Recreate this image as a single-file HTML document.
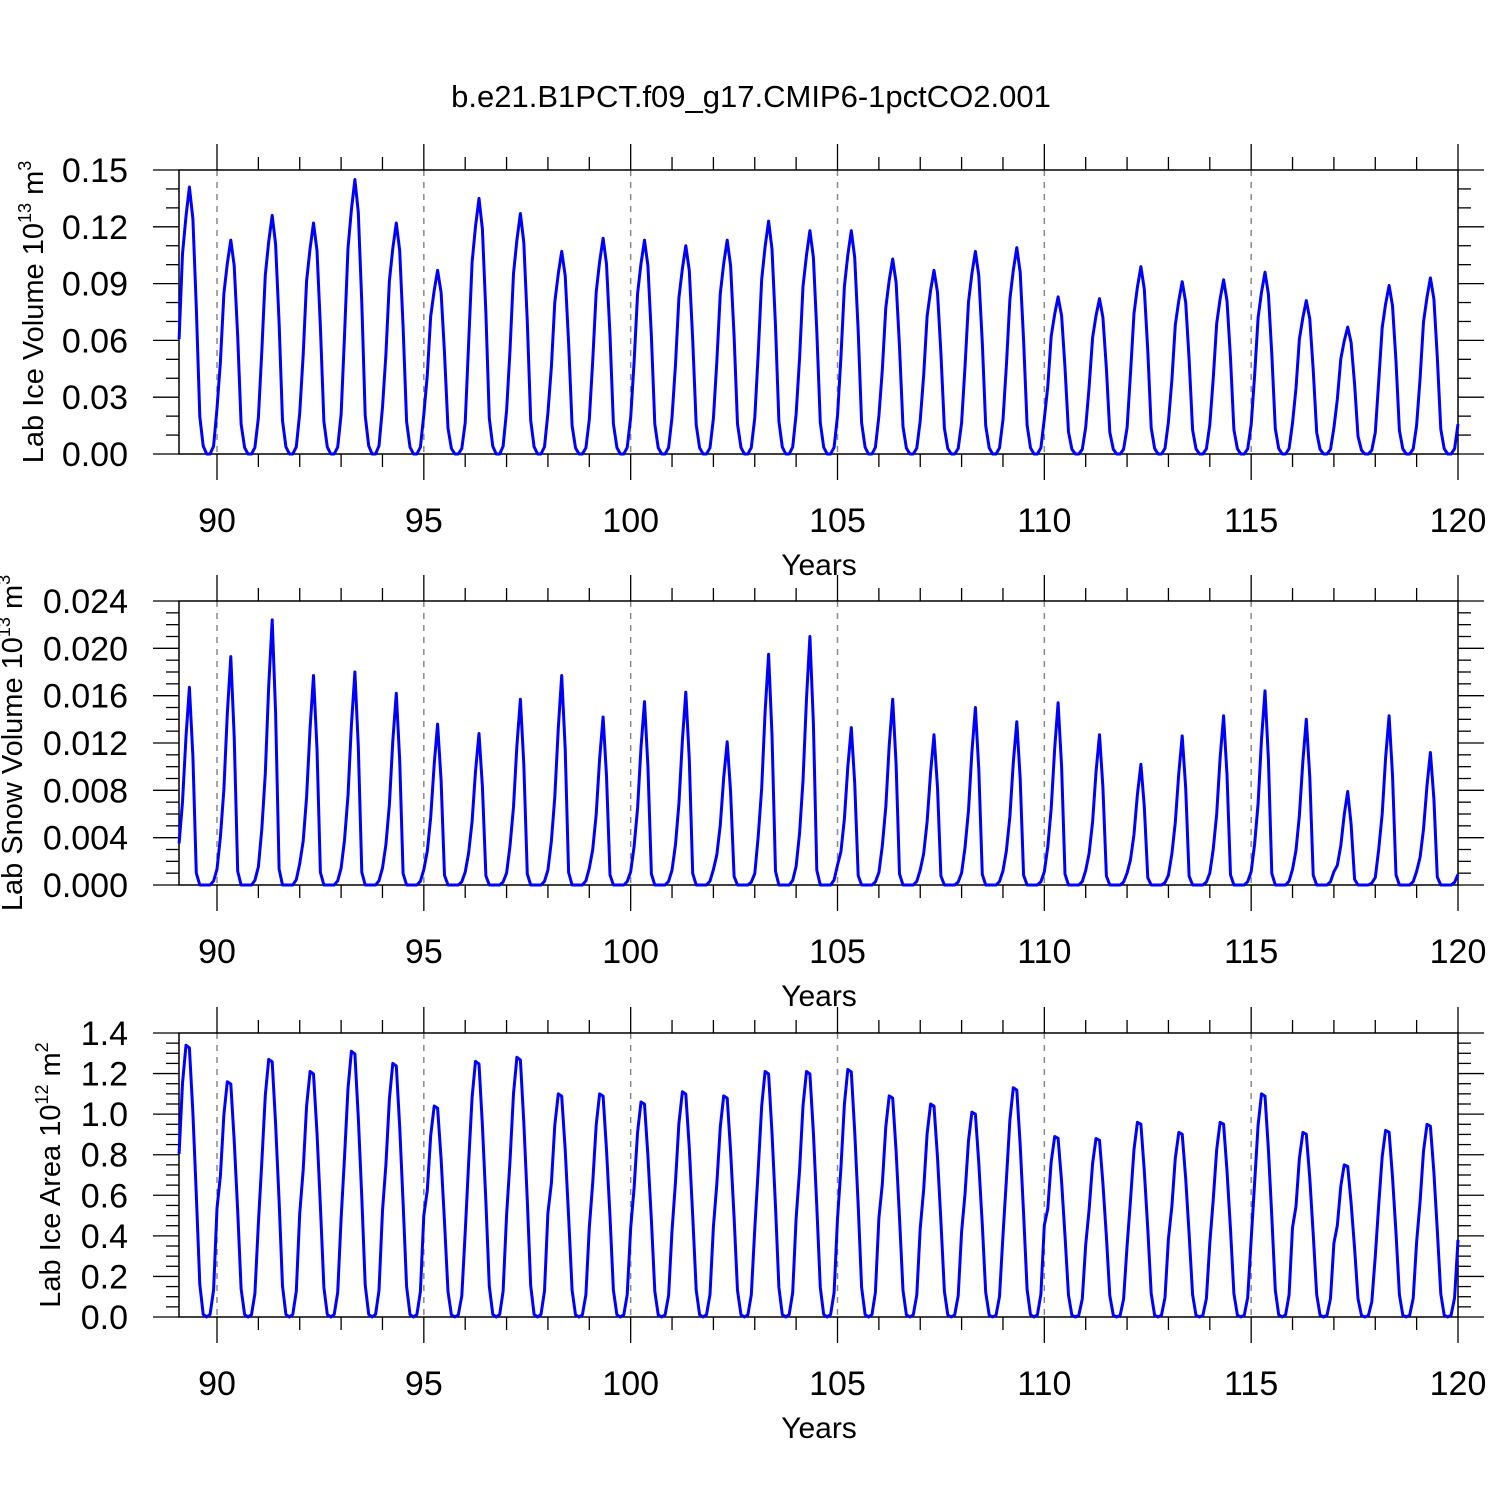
<!DOCTYPE html>
<html><head><meta charset="utf-8"><style>
body{margin:0;background:#fff}
svg{display:block;font-family:"Liberation Sans",sans-serif}
</style></head><body>
<svg id="chart" width="1500" height="1500" viewBox="0 0 1500 1500" xmlns="http://www.w3.org/2000/svg">
<rect width="1500" height="1500" fill="#fff"/>
<text x="751" y="107" font-size="31" text-anchor="middle">b.e21.B1PCT.f09_g17.CMIP6-1pctCO2.001</text>
</svg>
<script>
const years = [89,90,91,92,93,94,95,96,97,98,99,100,101,102,103,104,105,106,107,108,109,110,111,112,113,114,115,116,117,118,119];
const icePeaks = [0.141,0.113,0.126,0.122,0.145,0.122,0.097,0.135,0.127,0.107,0.114,0.113,0.110,0.113,0.123,0.118,0.118,0.103,0.097,0.107,0.109,0.083,0.082,0.099,0.091,0.092,0.096,0.081,0.067,0.089,0.093];
const iceProfile = [0.43,0.75,0.89,1.0,0.88,0.55,0.14,0.03,0.0,0.0,0.03,0.17];
const snowPeaks = [0.0167,0.0193,0.0224,0.0177,0.018,0.0162,0.0136,0.0128,0.0157,0.0177,0.0142,0.0155,0.0163,0.0121,0.0195,0.0210,0.0133,0.0157,0.0127,0.015,0.0138,0.0154,0.0127,0.0102,0.0126,0.0143,0.0164,0.014,0.0079,0.0143,0.0112];
const snowProfile = [0.21,0.42,0.75,1.0,0.65,0.06,0.0,0.0,0.0,0.0,0.02,0.08];
const areaPeaks = [1.34,1.16,1.27,1.21,1.31,1.25,1.04,1.26,1.28,1.10,1.10,1.06,1.11,1.09,1.21,1.21,1.22,1.09,1.05,1.01,1.13,0.89,0.88,0.96,0.91,0.96,1.10,0.91,0.75,0.92,0.95];
const areaProfile = [0.6,0.86,1.0,0.99,0.75,0.45,0.12,0.01,0.0,0.01,0.1,0.4];
const xTicks = [90,95,100,105,110,115,120];
const iceTicks = ["0.00","0.03","0.06","0.09","0.12","0.15"];
const snowTicks = ["0.000","0.004","0.008","0.012","0.016","0.020","0.024"];
const areaTicks = ["0.0","0.2","0.4","0.6","0.8","1.0","1.2","1.4"];

const NS="http://www.w3.org/2000/svg";
const svg=document.getElementById('chart');
const L=179,R=1458;
function xs(t){return 217+(t-90)*(R-217)/30;}
function mk(tag,attrs,parent){const e=document.createElementNS(NS,tag);for(const k in attrs)e.setAttribute(k,attrs[k]);(parent||svg).appendChild(e);return e;}

const panels=[
 {name:'ice-volume',top:170,bot:454,max:0.15,ticks:iceTicks,minor:0.01,peaks:icePeaks,prof:iceProfile,
  label:'Lab Ice Volume 10',sup:'13',unit:' m',sup2:'3',lx:43},
 {name:'snow-volume',top:601,bot:885,max:0.024,ticks:snowTicks,minor:0.001,peaks:snowPeaks,prof:snowProfile,
  label:'Lab Snow Volume 10',sup:'13',unit:' m',sup2:'3',lx:22},
 {name:'ice-area',top:1033,bot:1317,max:1.4,ticks:areaTicks,minor:0.05,peaks:areaPeaks,prof:areaProfile,
  label:'Lab Ice Area 10',sup:'12',unit:' m',sup2:'2',lx:60}
];
panels.forEach(p=>{
  const g=mk('g',{});
  
  
  const ys=v=>p.bot-(v/p.max)*(p.bot-p.top);
  xTicks.slice(0,-1).forEach(t=>{
    const l=mk('line',{x1:xs(t),x2:xs(t),y1:p.top,y2:p.bot,stroke:'#888','stroke-width':1.5,'stroke-dasharray':'6,6'},g);
    
    
  });
  for(let y=90;y<=120;y++){
    const major=(y%5===0);const len=major?26:13;
    mk('line',{x1:xs(y),x2:xs(y),y1:p.bot,y2:p.bot+len,stroke:'#000','stroke-width':1.3},g);
    mk('line',{x1:xs(y),x2:xs(y),y1:p.top,y2:p.top-len,stroke:'#000','stroke-width':1.3},g);
  }
  xTicks.forEach(t=>{
    const tx=mk('text',{x:xs(t),y:p.bot+78,'font-size':34,'text-anchor':'middle'},g);
    
    
    tx.textContent=t;
  });
  const xt=mk('text',{x:819,y:p.bot+121,'font-size':30,'text-anchor':'middle'},g);
  
  
  xt.textContent='Years';
  const nMinor=Math.round(p.max/p.minor);
  const majStep=p.max/(p.ticks.length-1);
  for(let i=0;i<=nMinor;i++){
    const v=i*p.minor;const major=Math.abs(v/majStep-Math.round(v/majStep))<1e-6;const len=major?26:13;
    mk('line',{x1:L-len,x2:L,y1:ys(v),y2:ys(v),stroke:'#000','stroke-width':1.3},g);
    mk('line',{x1:R,x2:R+len,y1:ys(v),y2:ys(v),stroke:'#000','stroke-width':1.3},g);
  }
  p.ticks.forEach((s,i)=>{
    const tx=mk('text',{x:128,y:ys(i*majStep)+12,'font-size':34,'text-anchor':'end'},g);
    
    
    tx.textContent=s;
  });
  const cy=(p.top+p.bot)/2;
  const yt=mk('text',{x:p.lx,y:cy,'font-size':29,'text-anchor':'middle',transform:`rotate(-90 ${p.lx} ${cy})`},g);
  
  
  yt.appendChild(document.createTextNode(p.label));
  const s1=mk('tspan',{'font-size':18,dy:-12},yt);s1.textContent=p.sup;
  const s2=mk('tspan',{dy:12},yt);s2.textContent=p.unit;
  const s3=mk('tspan',{'font-size':18,dy:-12},yt);s3.textContent=p.sup2;
  const fr=mk('rect',{x:L,y:p.top,width:R-L,height:p.bot-p.top,fill:'none',stroke:'#000','stroke-width':1.5},g);
  
  
  const pts=[];
  years.forEach((yr,k)=>{
    p.prof.forEach((f,m)=>{
      const t=yr+(m+1)/12;
      pts.push(xs(t).toFixed(1)+','+ys(p.peaks[k]*f).toFixed(1));
    });
  });
  const pl=mk('polyline',{points:pts.join(' '),fill:'none',stroke:'#0000ff','stroke-width':3,'stroke-linejoin':'round'},g);
  
  
});
</script>
</body></html>
